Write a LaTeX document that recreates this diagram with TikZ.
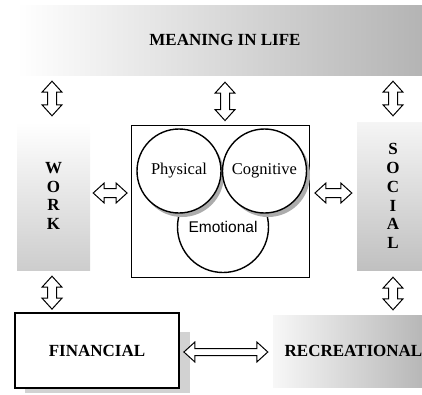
\documentclass[tikz,border=0pt]{standalone}
\usepackage{fontspec}
\setmainfont{Liberation Serif}
\newfontfamily\emofont{Liberation Sans}
\usetikzlibrary{calc}
\definecolor{panelgray}{RGB}{178,178,178}
\definecolor{sidegray}{RGB}{205,205,205}
\definecolor{socialgray}{RGB}{192,192,192}
\definecolor{shadowgray}{RGB}{172,172,172}
\definecolor{boxshadow}{RGB}{210,210,210}

% hollow double-headed block arrow drawn between two points
\tikzset{
  bashaft/.store in=\bashaft, bashaft=4.5pt,
  bahead/.store in=\bahead, bahead=10pt,
  balen/.store in=\balen, balen=11pt,
  blockarrow/.style={draw=black, fill=white, line width=1pt, line join=miter,
    to path={
      -- ($(\tikztostart)!\balen!(\tikztotarget)!\bahead!90:(\tikztotarget)$)
      -- ($(\tikztostart)!\balen!(\tikztotarget)!\bashaft!90:(\tikztotarget)$)
      -- ($(\tikztotarget)!\balen!(\tikztostart)!\bashaft!-90:(\tikztostart)$)
      -- ($(\tikztotarget)!\balen!(\tikztostart)!\bahead!-90:(\tikztostart)$)
      -- (\tikztotarget)
      -- ($(\tikztotarget)!\balen!(\tikztostart)!\bahead!90:(\tikztostart)$)
      -- ($(\tikztotarget)!\balen!(\tikztostart)!\bashaft!90:(\tikztostart)$)
      -- ($(\tikztostart)!\balen!(\tikztotarget)!\bashaft!-90:(\tikztotarget)$)
      -- ($(\tikztostart)!\balen!(\tikztotarget)!\bahead!-90:(\tikztotarget)$)
      -- cycle}},
  panel/.style={rectangle, inner sep=0pt, align=center,
    font=\bfseries\fontsize{17}{19}\selectfont},
  tallpanel/.style={panel, font=\bfseries\fontsize{17}{18.8}\selectfont},
  facet/.style={circle, draw=black, fill=white, line width=1.4pt, inner sep=0pt,
    font=\fontsize{16.5}{18}\selectfont}
}

\begin{document}
\begin{tikzpicture}[x=1pt,y=-1pt]
\useasboundingbox (0,0) rectangle (422,394);

% outer domains
\node[panel, minimum width=416pt, minimum height=70pt,
  left color=white, right color=panelgray] (meaning) at (225,40) {MEANING IN LIFE};
\node[tallpanel, minimum width=73pt, minimum height=148pt,
  top color=white, bottom color=sidegray] (work) at (53.5,196) {W\\O\\R\\K};
\node[tallpanel, minimum width=72pt, minimum height=148pt,
  top color=white!96!black, bottom color=socialgray] (social) at (393,196) {S\\O\\C\\I\\A\\L};

% central frame with the three overlapping facets
\node[draw=black, line width=0.9pt, minimum width=178pt, minimum height=152pt] (core) at (220.5,201) {};
\node[facet, minimum size=91pt, font=\emofont\fontsize{15.5}{17}\selectfont] (emo) at (223,227) {\raisebox{-3pt}{Emotional}};
\fill[shadowgray] ($(179,171)+(3,4)$) circle[radius=42pt];
\fill[shadowgray] ($(264.5,171)+(3.5,4)$) circle[radius=42pt];
\node[facet, minimum size=84pt] (phys) at (179,171) {Physical};
\node[facet, minimum size=84pt] (cogn) at (264.5,171) {Cognitive};

% lower domains
\fill[boxshadow] (25,332) rectangle (190,393);
\node[panel, draw=black, fill=white, line width=1.8pt, minimum width=164pt, minimum height=75pt] (fin) at (97,350.5) {FINANCIAL};
\node[panel, minimum width=161pt, minimum height=72pt,
  left color=white!97!black, right color=panelgray] (rec) at (353.5,351) {RECREATIONAL};

% links between domains
\draw[blockarrow] ($(meaning.south -| work.north)+(-1.5,6)$) to ($(work.north)+(-1.5,-6)$);
\draw[blockarrow] ($(meaning.south -| core.north)+(4.5,7)$) to ($(core.north)+(4.5,-4)$);
\draw[blockarrow] ($(meaning.south -| social.north)+(0,6)$) to ($(social.north)+(0,-6)$);
\draw[blockarrow] ($(work.south)+(-1.5,6)$) to ($(fin.north -| work.south)+(-1.5,-3)$);
\draw[blockarrow] ($(social.south)+(0,7)$) to ($(rec.north -| social.south)+(0,-5)$);
\draw[blockarrow] ($(work.east)+(3,-3)$) to ($(core.west)+(-4,-8)$);
\draw[blockarrow] ($(core.east)+(5,-8)$) to ($(social.west)+(-5,-3)$);
\draw[blockarrow, bashaft=3.5pt] ($(fin.east)+(4,1.5)$) to ($(rec.west)+(-5,1)$);
\end{tikzpicture}
\end{document}
